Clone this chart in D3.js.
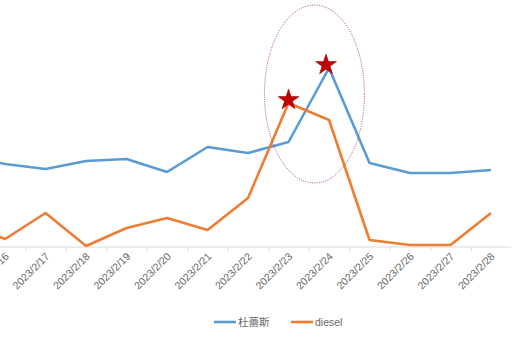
<!DOCTYPE html>
<html>
<head>
<meta charset="utf-8">
<script src="https://cdn.jsdelivr.net/npm/d3@7"></script>
<style>
  body { margin: 0; background: #fff; }
  svg { display: block; }
</style>
</head>
<body>
<div id="vis"></div>
<script>
// chart is cropped on the left, first day sits off-canvas
var dates = ["2023/2/15", "2023/2/16", "2023/2/17", "2023/2/18", "2023/2/19", "2023/2/20", "2023/2/21",
  "2023/2/22", "2023/2/23", "2023/2/24", "2023/2/25", "2023/2/26", "2023/2/27", "2023/2/28"];
var durexVals = [91, 83, 78, 86, 88, 75, 100, 94, 105, 179, 84, 74, 74, 77];
var dieselVals = [24, 8, 34, 1, 19, 29, 17, 49, 144, 127, 7, 2, 2, 34];
var seriesNames = ["杜蕾斯", "diesel"];
var seriesColors = ["#5b9bd5", "#ed7d31"];

var width = 514, height = 347;
var baseY = 247;

var svg = d3.select("#vis").append("svg")
  .attr("width", width)
  .attr("height", height);

var x = d3.scalePoint()
  .domain(dates)
  .range([-35.4, 491]);
var step = x.step();

var y = d3.scaleLinear()
  .domain([0, 200])
  .range([baseY, baseY - 200]);

// category axis, ticks between categories
var axis = d3.axisBottom(x)
  .tickSize(0)
  .tickPadding(0);

var gx = svg.append("g")
  .attr("transform", "translate(0," + baseY + ")")
  .call(axis);
gx.select(".domain").remove();
gx.append("line")
  .attr("x1", 0)
  .attr("x2", x(dates[dates.length - 1]) + step / 2)
  .attr("stroke", "#d9d9d9")
  .attr("stroke-width", 1);
gx.selectAll(".tick").append("line")
  .attr("x1", -step / 2).attr("x2", -step / 2)
  .attr("y1", 0).attr("y2", 4)
  .attr("stroke", "#d9d9d9");
gx.selectAll(".tick text")
  .attr("fill", "#666")
  .style("font-family", "'Liberation Sans', Arial, sans-serif")
  .style("font-size", "10.5px")
  .attr("text-anchor", "end")
  .attr("dy", null)
  .attr("transform", "translate(4,10) rotate(-45)");

var line = d3.line()
  .x(function(d, i) { return x(dates[i]); })
  .y(function(d) { return y(d); });

[durexVals, dieselVals].forEach(function(vals, k) {
  svg.append("path")
    .datum(vals)
    .attr("fill", "none")
    .attr("stroke", seriesColors[k])
    .attr("stroke-width", 2.6)
    .attr("stroke-linejoin", "round")
    .attr("d", line);
});

// dotted ellipse round the peaks
svg.append("ellipse")
  .attr("cx", x("2023/2/23") + step * 0.64)
  .attr("cy", y(153))
  .attr("rx", 50)
  .attr("ry", 89)
  .attr("fill", "none")
  .attr("stroke", "#a33a3a")
  .attr("stroke-width", 0.9)
  .attr("stroke-dasharray", "1,1.3");

// stars on the peaks
var star = d3.symbol().type(d3.symbolStar).size(135);
var peaks = [
  { date: "2023/2/24", val: d3.max(durexVals), dx: -3 },
  { date: "2023/2/23", val: d3.max(dieselVals), dx: 0 }
];
svg.selectAll(".star")
  .data(peaks)
  .enter().append("path")
  .attr("class", "star")
  .attr("d", star)
  .attr("transform", function(d) { return "translate(" + (x(d.date) + d.dx) + "," + (y(d.val) - 3) + ")"; })
  .attr("fill", "#c00000")
  .attr("stroke", "#9b0a0a")
  .attr("stroke-width", 0.6);

// legend
var legend = svg.append("g")
  .attr("transform", "translate(214,322)");
var offsets = [0, 77];
seriesNames.forEach(function(name, k) {
  var lg = legend.append("g").attr("transform", "translate(" + offsets[k] + ",0)");
  lg.append("line")
    .attr("x1", 0).attr("x2", 22)
    .attr("stroke", seriesColors[k])
    .attr("stroke-width", 2.6);
  lg.append("text")
    .attr("x", 24)
    .attr("dy", "0.35em")
    .attr("fill", "#666")
    .style("font-family", "'Liberation Sans', 'Noto Sans CJK SC', sans-serif")
    .style("font-size", "10.5px")
    .text(name);
});
</script>
</body>
</html>
